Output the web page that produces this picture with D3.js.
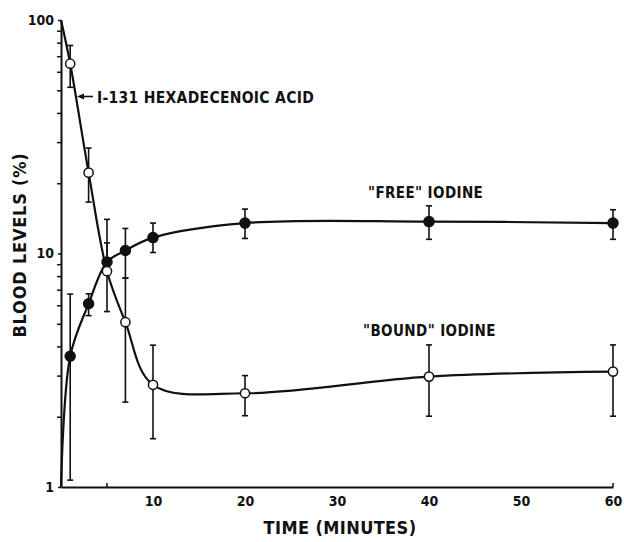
<!doctype html>
<html>
<head>
<meta charset="utf-8">
<script src="https://d3js.org/d3.v7.min.js"></script>
<style>
  body { margin: 0; background: #fff; }
  text { font-family: "DejaVu Sans Condensed", "DejaVu Sans", sans-serif; font-weight: bold; fill: #111; }
  .domain { stroke: #111; stroke-width: 2; }
  .tick line { stroke: #111; stroke-width: 1.5; }
</style>
</head>
<body>
<svg id="chart" width="624" height="542"></svg>
<script>
// time points (minutes)
var times = [0, 1, 3, 5, 7, 10, 20, 40, 60];

// open circles: I-131 hexadecenoic acid, then "bound" iodine
var boundVals = [100, 65, 22.2, 8.4, 5.08, 2.74, 2.52, 2.97, 3.12];
var boundLo   = [null, 51.5, 16.6, 5.64, 2.31, 1.61, 2.02, 2.01, 2.01];
var boundHi   = [null, 77.8, 28.3, 11.1, 7.85, 4.05, 3.0, 4.06, 4.06];

// filled circles: "free" iodine
var freeVals = [1, 3.63, 6.09, 9.2, 10.3, 11.7, 13.5, 13.7, 13.5];
var freeLo   = [null, 1.07, 5.42, 9.2, 7.85, 10.1, 11.6, 11.5, 11.5];
var freeHi   = [null, 6.7, 6.72, 14.0, 12.8, 13.5, 15.5, 16.0, 15.4];

var xTicks = [10, 20, 30, 40, 50, 60];
var yTicks = [1, 10, 100];

var svg = d3.select('#chart');
var x = d3.scaleLinear().domain([0, 60]).range([61, 613]);
var y = d3.scaleLog().domain([1, 100]).range([487, 20]);

// y axis: log, minor ticks outside
var yMinor = [];
[1, 10].forEach(function(d){ for (var k = 2; k <= 9; k++) yMinor.push(d * k); });
svg.append('g').attr('transform', 'translate(61,0)')
  .call(d3.axisLeft(y).tickValues(yMinor).tickSize(4).tickFormat(''))
  .call(function(g){ g.select('.domain').remove(); });
svg.append('g').attr('transform', 'translate(61,0)')
  .call(d3.axisLeft(y).tickValues(yTicks).tickSize(3).tickSizeOuter(0)
    .tickFormat(d3.format('d')).tickPadding(4))
  .call(function(g){ g.selectAll('text').style('font-size', '14px'); });

// x axis
svg.append('g').attr('transform', 'translate(0,487)')
  .call(d3.axisBottom(x).tickValues(xTicks).tickSize(0).tickSizeOuter(0).tickPadding(9))
  .call(function(g){ g.selectAll('text').style('font-size', '14px'); });
svg.append('g').attr('transform', 'translate(0,487)')
  .selectAll('line').data([5, 60]).enter().append('line')
  .attr('x1', function(d){ return x(d); }).attr('x2', function(d){ return x(d); })
  .attr('y1', 0).attr('y2', -4).attr('stroke', '#111').attr('stroke-width', 1.5);

// titles
svg.append('text').attr('x', 340).attr('y', 534).attr('text-anchor', 'middle')
  .style('font-size', '18px').style('letter-spacing', '0.4px').text('TIME (MINUTES)');
svg.append('text').attr('transform', 'translate(26,245) rotate(-90)').attr('text-anchor', 'middle')
  .style('font-size', '18px').style('letter-spacing', '0.8px').text('BLOOD LEVELS (%)');

function series(vals, lo, hi, filled) {
  var pts = times.map(function(t, i){ return {t: t, v: vals[i], lo: lo[i], hi: hi[i]}; });
  var line = d3.line().x(function(d){ return x(d.t); }).y(function(d){ return y(d.v); })
    .curve(d3.curveCatmullRom.alpha(0.5));
  svg.append('path').datum(pts).attr('d', line)
    .attr('fill', 'none').attr('stroke', '#111').attr('stroke-width', 2.2);
  var bars = pts.filter(function(d){ return d.lo != null; });
  var g = svg.append('g').attr('stroke', '#111').attr('stroke-width', 1.6);
  g.selectAll('.v').data(bars).enter().append('line')
    .attr('x1', function(d){ return x(d.t); }).attr('x2', function(d){ return x(d.t); })
    .attr('y1', function(d){ return y(d.lo); }).attr('y2', function(d){ return y(d.hi); });
  g.selectAll('.c1').data(bars).enter().append('line')
    .attr('x1', function(d){ return x(d.t) - 3; }).attr('x2', function(d){ return x(d.t) + 3; })
    .attr('y1', function(d){ return y(d.hi); }).attr('y2', function(d){ return y(d.hi); });
  g.selectAll('.c2').data(bars).enter().append('line')
    .attr('x1', function(d){ return x(d.t) - 3; }).attr('x2', function(d){ return x(d.t) + 3; })
    .attr('y1', function(d){ return y(d.lo); }).attr('y2', function(d){ return y(d.lo); });
  svg.append('g').selectAll('circle').data(pts.filter(function(d){ return d.t > 0; }))
    .enter().append('circle')
    .attr('cx', function(d){ return x(d.t); }).attr('cy', function(d){ return y(d.v); })
    .attr('r', filled ? 5 : 4.6)
    .attr('fill', filled ? '#111' : '#fff').attr('stroke', '#111').attr('stroke-width', 1.5);
}
series(freeVals, freeLo, freeHi, true);
series(boundVals, boundLo, boundHi, false);

// labels
svg.append('line').attr('x1', 80).attr('x2', 93).attr('y1', 96.5).attr('y2', 96.5)
  .attr('stroke', '#111').attr('stroke-width', 1.6);
svg.append('path').attr('d', 'M77,96.5 L84,93.5 L84,99.5 Z').attr('fill', '#111');
svg.append('text').attr('x', 97).attr('y', 103).style('font-size', '15.5px')
  .style('letter-spacing', '0.3px').text('I-131 HEXADECENOIC ACID');
svg.append('text').attr('x', 368).attr('y', 198).style('font-size', '15px')
  .style('letter-spacing', '0.4px').text('"FREE" IODINE');
svg.append('text').attr('x', 363).attr('y', 336).style('font-size', '15px')
  .style('letter-spacing', '0.4px').text('"BOUND" IODINE');
</script>
</body>
</html>
